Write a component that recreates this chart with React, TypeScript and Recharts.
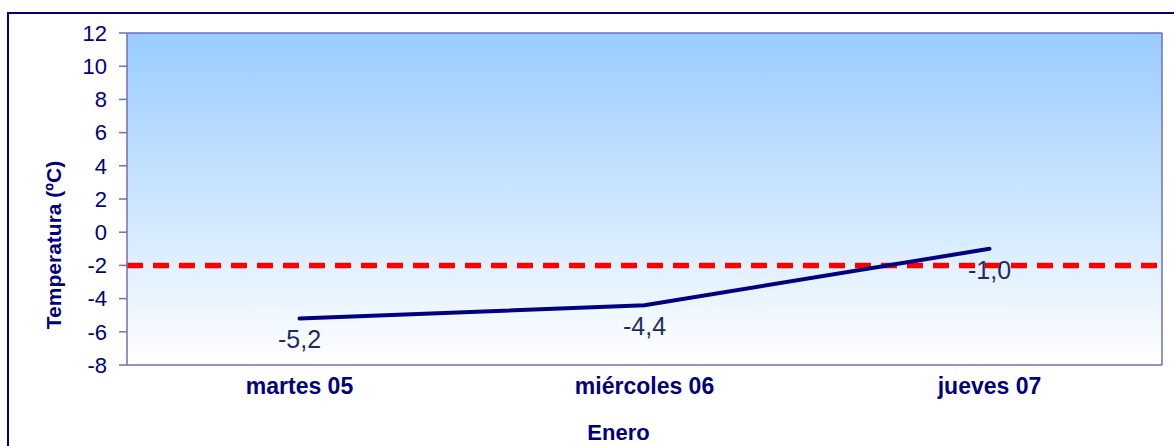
import { LineChart, Line, XAxis, YAxis, CartesianGrid, ReferenceLine, LabelList, Label } from "recharts";

// valores
const days = ["martes 05", "miércoles 06", "jueves 07"];
const temps = [-5.2, -4.4, -1.0];
const threshold = -2;
const yTicks = [-8, -6, -4, -2, 0, 2, 4, 6, 8, 10, 12];

const W = 1174;
const H = 446;
const M = { top: 33, right: 12, bottom: 0, left: 0 };
const Y_W = 127;
const X_H = 81;
const plotW = W - M.left - M.right - Y_W;
const pad = plotW / (days.length * 2);

const NAVY = "#000080";
const FRAME = "#6f6fb8";
const FONT = "'Liberation Sans', Arial, sans-serif";

const data = days.map((d, i) => ({ day: d, temp: temps[i] }));

const fmt = (v: number) => v.toFixed(1).replace(".", ",");

function YTitle({ viewBox }: any) {
  const cx = viewBox.x + 53;
  const cy = viewBox.y + viewBox.height / 2 + 46;
  return (
    <text x={cx} y={cy} transform={`rotate(-90, ${cx}, ${cy})`} textAnchor="middle" dominantBaseline="central"
      fill={NAVY} fontSize={21} fontWeight="bold" fontFamily={FONT}>
      Temperatura (ºC)
    </text>
  );
}

export default function App() {
  return (
    <div style={{ position: "relative", width: W, height: H, overflow: "hidden", background: "#fff" }}>
      <style>{`body{margin:0}`}</style>
      <LineChart width={W} height={H} data={data} margin={M} style={{ fontFamily: FONT }}>
        <defs>
          <linearGradient id="bg" x1="0" y1="0" x2="0" y2="1">
            <stop offset="0%" stopColor="#99ccff" />
            <stop offset="100%" stopColor="#ffffff" />
          </linearGradient>
        </defs>
        <CartesianGrid fill="url(#bg)" fillOpacity={1} stroke={FRAME} strokeWidth={1.5}
          horizontalCoordinatesGenerator={({ offset }: any) => [offset.top]}
          verticalCoordinatesGenerator={({ offset }: any) => [offset.left + offset.width]} />
        <XAxis dataKey="day" type="category" padding={{ left: pad, right: pad }} height={X_H}
          tickLine={false} tickSize={0} tickMargin={13} stroke={FRAME} strokeWidth={1.5}
          tick={{ fill: NAVY, fontSize: 23, fontWeight: "bold", fontFamily: FONT }} interval={0}>
          <Label value="Enero" position="insideBottom" offset={6} dx={-26} fill={NAVY} fontSize={22}
            fontWeight="bold" fontFamily={FONT} />
        </XAxis>
        <XAxis xAxisId="full" type="number" domain={[0, 1]} hide />
        <YAxis type="number" domain={[-8, 12]} ticks={yTicks} interval={0} width={Y_W}
          tickSize={8} tickMargin={12} stroke={FRAME} strokeWidth={1.5}
          tick={{ fill: NAVY, fontSize: 22, fontFamily: FONT }}
          label={<YTitle />} />
        <ReferenceLine xAxisId="full" y={threshold} stroke="#ff0000" strokeWidth={5.5} strokeDasharray="16 10" />
        <Line type="linear" dataKey="temp" stroke={NAVY} strokeWidth={4} dot={false} strokeLinecap="round"
          isAnimationActive={false}>
          <LabelList dataKey="temp" position="bottom" offset={12} formatter={(v: any) => fmt(v)}
            fill="#1f2d5e" fontSize={25} fontFamily={FONT} />
        </Line>
      </LineChart>
      <div style={{ position: "absolute", left: 7, top: 12, width: W + 20, height: H + 20,
        border: `2px solid ${NAVY}`, pointerEvents: "none" }} />
    </div>
  );
}
